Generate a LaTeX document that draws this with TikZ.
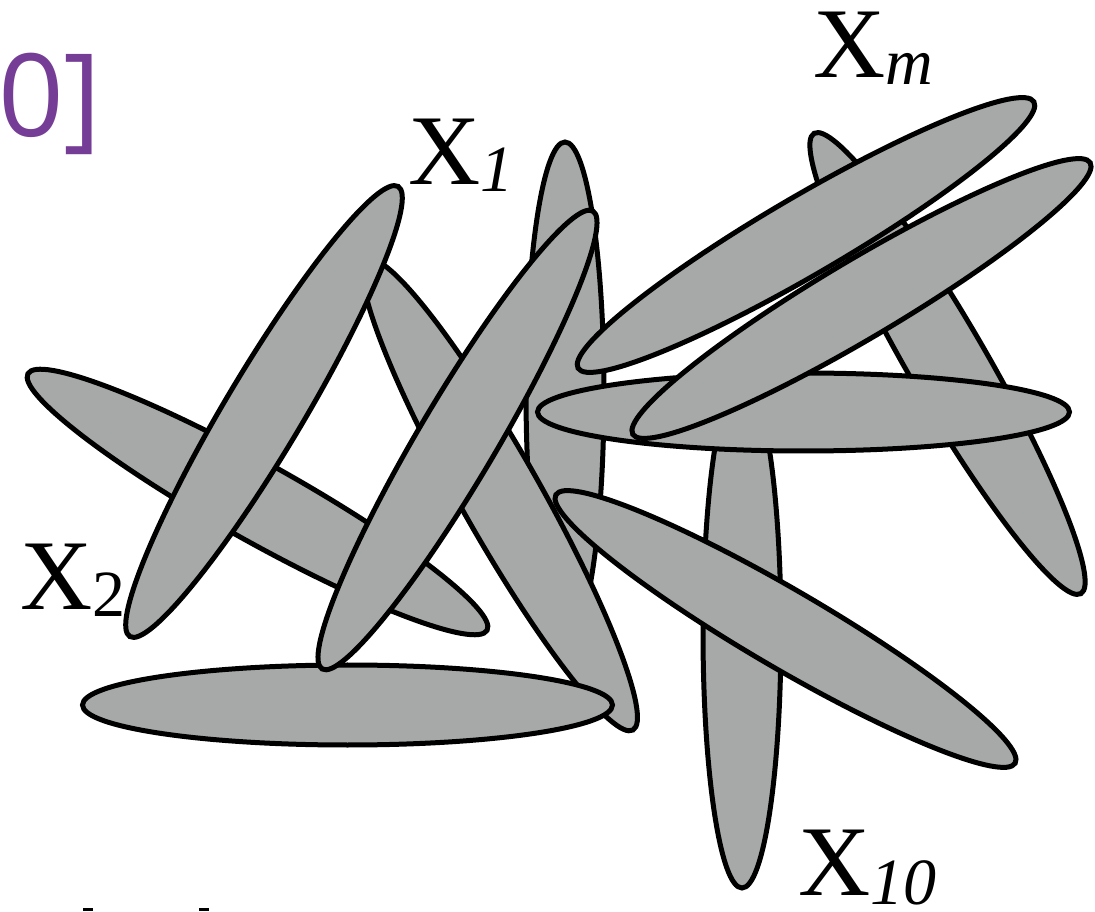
\documentclass[tikz,border=0pt]{standalone}
\usepackage{fontspec}
\setmainfont{Liberation Serif}
\newfontfamily\purplefont{Open Sans}
\definecolor{ellgray}{RGB}{166,169,167}
\definecolor{titlepurple}{RGB}{118,61,150}
\tikzset{
  ell/.style={draw=black, line width=5pt, fill=ellgray},
  lbl/.style={inner sep=0pt, anchor=base west, font=\fontsize{100}{110}\selectfont},
  frag/.style={fill=black, draw=none}
}
\newcommand{\subsc}[2]{\lower#1\hbox{\fontsize{66}{70}\selectfont #2}}
\begin{document}
\begin{tikzpicture}[x=1pt,y=1pt]
\useasboundingbox (0,0) rectangle (1095,911);
% back to front
\draw[ell, rotate around={-59.9:(947.5,547.5)}] (947.5,547.5) ellipse [x radius=266pt, y radius=39pt]; % E7
\draw[ell] (565,518) ellipse [x radius=39pt, y radius=251pt]; % E4
\draw[ell] (742,279) ellipse [x radius=39pt, y radius=256pt]; % E11
\draw[ell, rotate around={-29.2:(257.5,409)}] (257.5,409) ellipse [x radius=263pt, y radius=39pt]; % E1
\draw[ell, rotate around={-60.5:(500,416)}] (500,416) ellipse [x radius=270pt, y radius=40pt]; % E3
\draw[ell] (347.5,206) ellipse [x radius=265pt, y radius=40pt]; % E6
\draw[ell, rotate around={59.2:(264,499.5)}] (264,499.5) ellipse [x radius=262pt, y radius=39pt]; % E2
\draw[ell, rotate around={59.4:(457.5,471)}] (457.5,471) ellipse [x radius=266pt, y radius=39pt]; % E5
\draw[ell, rotate around={-30.3:(785.5,282)}] (785.5,282) ellipse [x radius=266pt, y radius=39pt]; % E12
\draw[ell, rotate around={30.3:(806,676)}] (806,676) ellipse [x radius=264pt, y radius=39pt]; % E8
\draw[ell] (803.5,499) ellipse [x radius=266pt, y radius=39pt]; % E10
\draw[ell, rotate around={30.7:(861.5,612.5)}] (861.5,612.5) ellipse [x radius=266pt, y radius=39pt]; % E9
% labels
\node[lbl] (x1) at (408,726) {X\subsc{7pt}{\itshape 1}};
\node[lbl] (x2) at (20,301) {X\subsc{7pt}{2}};
\node[lbl] (xm) at (813,833) {X\subsc{7pt}{\itshape m}};
\node[lbl] (x10) at (798,16) {X\subsc{9pt}{\itshape 10}};
\node[inner sep=0pt, anchor=base west, text=titlepurple, font=\purplefont\fontsize{115}{120}\selectfont] (title) at (-2,774) {0]};
% cropped fragments at bottom edge
\fill[frag] (83,0) rectangle (93,3);
\fill[frag] (199,0) rectangle (209,3);
\end{tikzpicture}
\end{document}
